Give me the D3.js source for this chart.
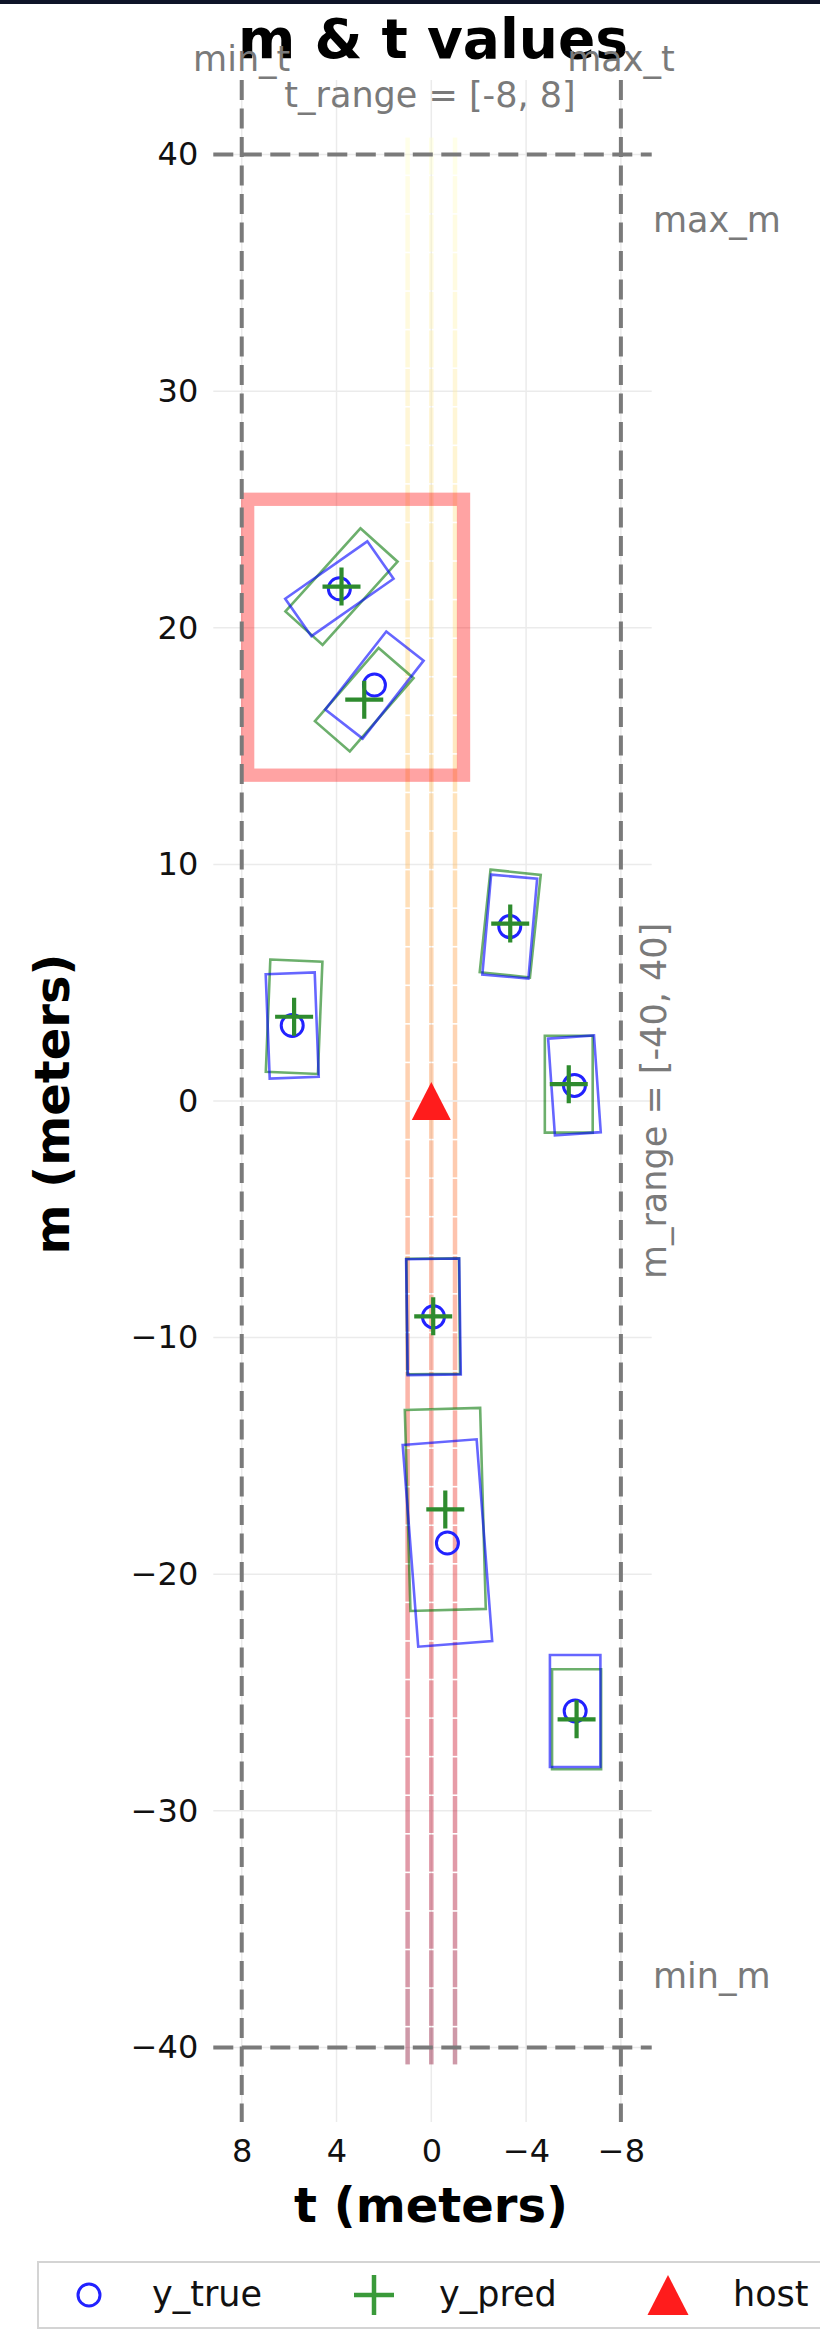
<!DOCTYPE html>
<html>
<head>
<meta charset="utf-8">
<script src="https://cdn.jsdelivr.net/npm/d3@7"></script>
<style>
  body { margin: 0; background: #fff; }
  svg { display: block; font-family: "DejaVu Sans", sans-serif; }
</style>
</head>
<body>
<svg id="chart" width="820" height="2333"></svg>
<script>
// ticks
let tTicks = [8, 4, 0, -4, -8]
let mTicks = [40, 30, 20, 10, 0, -10, -20, -30, -40]

// limits drawn as dashed lines
let tRange = [-8, 8]
let mRange = [-40, 40]

// y_true (centre t, centre m, length, width, yaw in degrees)
let trueT = [3.88, 2.40, -3.31, -6.04, 5.87, -0.09, -0.68, -6.07]
let trueM = [21.65, 17.58, 7.37, 0.66, 3.19, -9.12, -18.68, -25.78]
let trueLen = [4.23, 4.18, 4.24, 4.10, 4.41, 4.90, 8.55, 4.73]
let trueWid = [1.93, 2.00, 1.95, 1.94, 2.07, 2.24, 3.13, 2.13]
let trueYaw = [-55, -38, -5, 4, 2.2, 0.8, 4.4, 0]

// y_pred
let predT = [3.79, 2.83, -3.33, -5.80, 5.79, -0.08, -0.59, -6.13]
let predM = [21.74, 16.96, 7.50, 0.71, 3.56, -9.10, -17.26, -26.13]
let predLen = [4.73, 4.10, 4.36, 4.09, 4.75, 4.88, 8.50, 4.23]
let predWid = [2.11, 1.95, 2.13, 2.02, 2.20, 2.22, 3.18, 2.07]
let predYaw = [-42, -41, -6, 0, -2.3, 0.5, 1.6, 0]

// host and lane lines
let host = { t: 0, m: 0 }
let laneT = [1, 0, -1]
let laneEnds = [40.75, -40.75]
let laneSegments = 50

// highlighted region [t left, t right, m top, m bottom]
let highlight = [7.75, -1.36, 25.43, 13.77]

let svg = d3.select("#chart")

let x = d3.scaleLinear().domain([9.2, -9.3]).range([213.3, 651.7])
let y = d3.scaleLinear().domain([43.15, -43.15]).range([80, 2122])

let gray = "#7a7a7a"

svg.append("rect").attr("x", 0).attr("y", 0).attr("width", 820).attr("height", 4).attr("fill", "#0e1428")

// grid
svg.append("g").selectAll("line.gx").data(tTicks).enter().append("line")
  .attr("x1", d => x(d)).attr("x2", d => x(d))
  .attr("y1", y.range()[0]).attr("y2", y.range()[1])
  .style("stroke", "#ebebeb").style("stroke-width", 1.5)

svg.append("g").selectAll("line.gy").data(mTicks).enter().append("line")
  .attr("y1", d => y(d)).attr("y2", d => y(d))
  .attr("x1", x.range()[0]).attr("x2", x.range()[1])
  .style("stroke", "#ebebeb").style("stroke-width", 1.5)

// lanes, coloured along m
let segs = []
laneT.forEach(function(t){
  let step = (laneEnds[0] - laneEnds[1]) / laneSegments
  d3.range(laneSegments).forEach(function(i){
    segs.push({ t: t, m0: laneEnds[0] - i * step, m1: laneEnds[0] - (i + 1) * step, f: (i + 0.5) / laneSegments })
  })
})
svg.append("g").selectAll("line").data(segs).enter().append("line")
  .attr("x1", d => x(d.t)).attr("x2", d => x(d.t))
  .attr("y1", d => y(d.m0) + 0.8).attr("y2", d => y(d.m1) - 0.8)
  .style("stroke", d => d3.interpolateYlOrRd(d.f))
  .style("stroke-opacity", 0.4)
  .style("stroke-width", 4.5)

// boxes
function corners (t, m, len, wid, yaw) {
  let a = yaw * Math.PI / 180
  let ut = Math.sin(a) * len / 2, um = Math.cos(a) * len / 2
  let vt = Math.cos(a) * wid / 2, vm = -Math.sin(a) * wid / 2
  return [[t + ut + vt, m + um + vm], [t + ut - vt, m + um - vm], [t - ut - vt, m - um - vm], [t - ut + vt, m - um + vm]]
    .map(p => [x(p[0]), y(p[1])])
}
let line = d3.line().curve(d3.curveLinearClosed)

let predBoxes = predT.map((t, i) => corners(t, predM[i], predLen[i], predWid[i], predYaw[i]))
let trueBoxes = trueT.map((t, i) => corners(t, trueM[i], trueLen[i], trueWid[i], trueYaw[i]))

svg.append("g").selectAll("path").data(predBoxes).enter().append("path")
  .attr("d", line).attr("fill", "none")
  .style("stroke", "#0a7a0a").style("stroke-opacity", 0.6).style("stroke-width", 2.6)

svg.append("g").selectAll("path").data(trueBoxes).enter().append("path")
  .attr("d", line).attr("fill", "none")
  .style("stroke", "#0000ff").style("stroke-opacity", 0.6).style("stroke-width", 2.6)

// markers
svg.append("g").selectAll("circle").data(trueT).enter().append("circle")
  .attr("cx", d => x(d)).attr("cy", (d, i) => y(trueM[i])).attr("r", 11)
  .attr("fill", "none").style("stroke", "#2222ff").style("stroke-width", 3)

let plus = svg.append("g").selectAll("g").data(predT).enter().append("g")
  .attr("transform", (d, i) => `translate(${x(d)},${y(predM[i])})`)
plus.append("path").attr("d", "M-19,0H19M0,-19V19")
  .style("stroke", "#2e8b2e").style("stroke-width", 4.2)

svg.append("path")
  .attr("transform", `translate(${x(host.t)},${y(host.m)})`)
  .attr("d", "M0,-19L19.5,19L-19.5,19Z")
  .attr("fill", "#ff1c1c")

// highlight
svg.append("rect")
  .attr("x", x(highlight[0])).attr("y", y(highlight[2]))
  .attr("width", x(highlight[1]) - x(highlight[0]))
  .attr("height", y(highlight[3]) - y(highlight[2]))
  .attr("fill", "none").style("stroke", "#ff0000").style("stroke-opacity", 0.36).style("stroke-width", 13.3)

// limit lines
svg.append("g").selectAll("line").data(tRange).enter().append("line")
  .attr("x1", d => x(d)).attr("x2", d => x(d))
  .attr("y1", y.range()[0]).attr("y2", y.range()[1])
  .style("stroke", gray).style("stroke-width", 4).style("stroke-dasharray", "20,8.5")

svg.append("g").selectAll("line").data(mRange).enter().append("line")
  .attr("y1", d => y(d)).attr("y2", d => y(d))
  .attr("x1", x.range()[0]).attr("x2", x.range()[1])
  .style("stroke", gray).style("stroke-width", 4).style("stroke-dasharray", "20,8.5")

// axes
let yAxis = svg.append("g").attr("transform", `translate(${x.range()[0]},0)`)
  .call(d3.axisLeft(y).tickValues(mTicks).tickSize(0).tickPadding(15))
let xAxis = svg.append("g").attr("transform", `translate(0,${y.range()[1]})`)
  .call(d3.axisBottom(x).tickValues(tTicks).tickSize(0).tickPadding(17))
;[yAxis, xAxis].forEach(function(a){
  a.select(".domain").remove()
  a.selectAll("text").style("font-size", "32px").style("fill", "#111").style("font-family", "DejaVu Sans")
})

// texts
svg.append("text").attr("x", 433).attr("y", 58).attr("text-anchor", "middle")
  .style("font-size", "55px").style("font-weight", "bold").text("m & t values")

svg.append("text").attr("x", 431).attr("y", 2222).attr("text-anchor", "middle")
  .style("font-size", "48px").style("font-weight", "bold").text("t (meters)")

svg.append("text").attr("transform", "translate(69,1104) rotate(-90)").attr("text-anchor", "middle")
  .style("font-size", "48px").style("font-weight", "bold").text("m (meters)")

let notes = [
  { text: "min_t", x: x(tRange[1]), y: 71, anchor: "middle" },
  { text: "max_t", x: x(tRange[0]), y: 71, anchor: "middle" },
  { text: `t_range = [${tRange[0]}, ${tRange[1]}]`, x: 430, y: 107, anchor: "middle" },
  { text: "max_m", x: 653, y: 232, anchor: "start" },
  { text: "min_m", x: 653, y: 1988, anchor: "start" }
]
svg.append("g").selectAll("text").data(notes).enter().append("text")
  .attr("x", d => d.x).attr("y", d => d.y).attr("text-anchor", d => d.anchor)
  .style("font-size", "35px").style("fill", gray).text(d => d.text)

svg.append("text").attr("transform", `translate(666,${y(0)}) rotate(-90)`).attr("text-anchor", "middle")
  .style("font-size", "35px").style("fill", gray).text(`m_range = [${mRange[0]}, ${mRange[1]}]`)

// legend
let legend = svg.append("g")
legend.append("rect").attr("x", 38).attr("y", 2262).attr("width", 800).attr("height", 66)
  .attr("fill", "#fff").style("stroke", "#d4d4d4").style("stroke-width", 2)
legend.append("circle").attr("cx", 89).attr("cy", 2295).attr("r", 11)
  .attr("fill", "none").style("stroke", "#2222ff").style("stroke-width", 3)
legend.append("path").attr("d", "M354,2295H394M374,2275V2315")
  .style("stroke", "#3a9a3a").style("stroke-width", 4.5)
legend.append("path").attr("d", "M668,2275L688.5,2315L647.5,2315Z").attr("fill", "#ff1c1c")
let legendLabels = [{ text: "y_true", x: 152 }, { text: "y_pred", x: 439 }, { text: "host", x: 733 }]
legend.selectAll("text").data(legendLabels).enter().append("text")
  .attr("x", d => d.x).attr("y", 2306)
  .style("font-size", "35px").style("fill", "#111").text(d => d.text)
</script>
</body>
</html>
